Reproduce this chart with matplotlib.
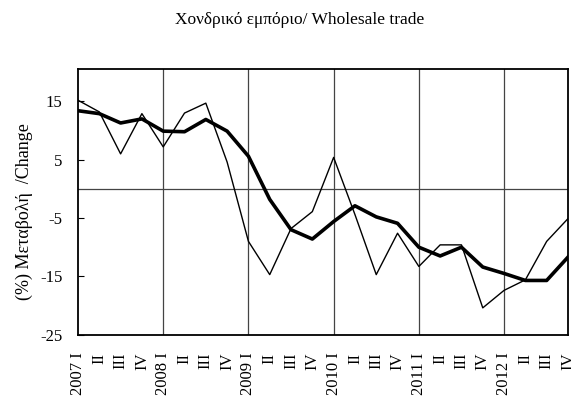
import matplotlib
matplotlib.use("Agg")
import matplotlib.pyplot as plt

# quarters 2007 I .. 2012 IV
years = ["2007", "2008", "2009", "2010", "2011", "2012"]
quarters = ["I", "II", "III", "IV"]

# thin line: quarterly change, thick line: smoothed
thin_vals = [15.2, 13.2, 6.0, 12.9, 7.2, 13.0, 14.7, 4.6, -9.0, -14.7, -6.8, -3.9,
             5.4, -4.4, -14.7, -7.6, -13.3, -9.6, -9.6, -20.4, -17.4, -15.6, -9.0, -5.1]
thick_vals = [13.4, 12.9, 11.3, 12.0, 9.9, 9.8, 11.9, 9.9, 5.6, -1.8, -7.0, -8.6,
              -5.6, -2.9, -4.8, -5.9, -10.0, -11.5, -10.0, -13.4, -14.5, -15.7, -15.7, -11.7]
y_ticks = [-25, -15, -5, 5, 15]

labels = []
for y in years:
    for q in quarters:
        labels.append(f"{y} {q}" if q == "I" else q)

plt.rcParams["font.family"] = ["Liberation Serif", "DejaVu Serif"]

fig = plt.figure(figsize=(5.71, 4.03), dpi=100)
ax = fig.add_axes([0.1366, 0.1695, 0.8581, 0.6585])

x = list(range(len(labels)))
ax.plot(x, thin_vals, color="black", linewidth=1.0, zorder=3)
ax.plot(x, thick_vals, color="black", linewidth=2.6, zorder=4)

# year separators and zero line
for i in range(4, len(labels), 4):
    ax.axvline(i, color="#444444", linewidth=0.9, zorder=1)
ax.axhline(0, color="#444444", linewidth=0.9, zorder=1)

ax.set_xlim(0, len(labels) - 1)
ax.set_ylim(-25, 20.5)
ax.set_yticks(y_ticks)
ax.set_yticklabels([str(t) for t in y_ticks], fontsize=12)
ax.set_xticks(x)
ax.set_xticklabels(labels, rotation=90, fontsize=12)
ax.tick_params(axis="x", length=0, pad=13)
ax.tick_params(axis="y", direction="in", length=4, pad=11)

for s in ax.spines.values():
    s.set_linewidth(1.3)

ax.set_ylabel("(%) Μεταβολή  /Change", fontsize=13)
ax.yaxis.set_label_coords(-0.092, 0.464)

fig.text(0.525, 0.95, "Χονδρικό εμπόριο/ Wholesale trade", ha="center", va="center", fontsize=12.5)

fig.savefig("out.png", dpi=100)
